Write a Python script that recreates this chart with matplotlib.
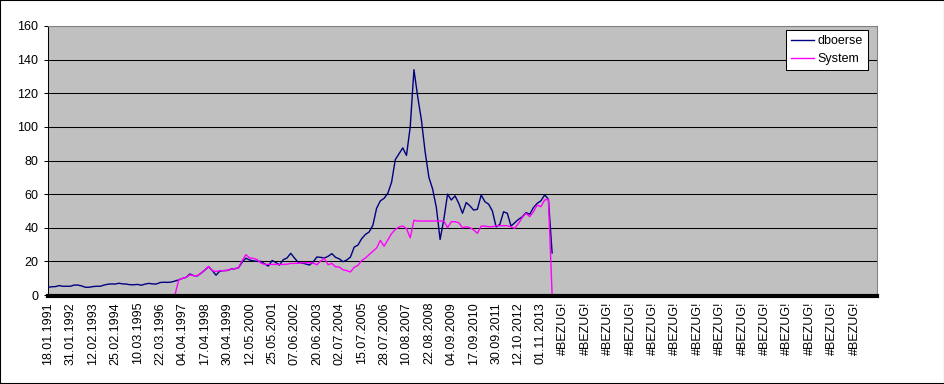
import numpy as np
import matplotlib
matplotlib.use("Agg")
import matplotlib.pyplot as plt
from matplotlib.patches import Rectangle

plt.rcParams["font.family"] = ["Liberation Sans", "DejaVu Sans"]

# Achsenbeschriftung (alle 270 Zeilen ein Label)
datums = ["18.01.1991", "31.01.1992", "12.02.1993", "25.02.1994", "10.03.1995",
          "22.03.1996", "04.04.1997", "17.04.1998", "30.04.1999", "12.05.2000",
          "25.05.2001", "07.06.2002", "20.06.2003", "02.07.2004", "15.07.2005",
          "28.07.2006", "10.08.2007", "22.08.2008", "04.09.2009", "17.09.2010",
          "30.09.2011", "12.10.2012", "01.11.2013"]
fehler_labels = ["#BEZUG!"] * 14
zeilen_pro_label = 270
zeilen_pro_wert = 45

# Kurse dboerse
dboerse = [
    4.5, 4.9, 5.0, 5.6, 5.2, 5.2, 5.2, 5.9, 5.9, 5.4,
    4.6, 4.6, 5.0, 5.2, 5.2, 5.9, 6.4, 6.6, 6.5, 7.0,
    6.6, 6.5, 6.1, 6.1, 6.3, 5.8, 6.5, 6.9, 6.6, 6.5,
    7.4, 7.6, 7.5, 7.7, 8.3, 9.0, 9.9, 10.5, 12.5, 11.5,
    11.4, 13.0, 14.8, 16.8, 14.5, 11.8, 14.2, 14.5, 14.6, 15.4,
    15.6, 16.2, 19.5, 21.9, 20.8, 20.3, 20.0, 20.0, 18.5, 17.2,
    20.5, 19.4, 17.8, 21.0, 22.0, 24.8, 22.0, 19.4, 19.0, 18.5,
    17.8, 19.6, 22.6, 22.4, 22.0, 23.0, 24.6, 22.4, 21.5, 19.8,
    20.8, 22.6, 28.5, 29.7, 33.5, 36.0, 37.5, 41.5, 51.6, 56.0,
    57.5, 60.5, 67.0, 80.5, 84.0, 87.5, 83.0, 100.0, 134.0, 118.0,
    104.0, 85.0, 70.0, 63.0, 52.0, 33.0, 45.0, 60.0, 56.5, 59.0,
    54.5, 48.6, 55.0, 53.0, 50.5, 51.0, 59.5, 55.5, 54.0, 50.0,
    40.5, 42.0, 49.5, 48.6, 41.0, 43.0, 45.0, 46.5, 49.0, 48.0,
    52.0, 54.5, 56.0, 59.5, 57.0, 25.0,
]

# System-Kurve (vor dem Start 0)
system = [
    0, 0, 0, 0, 0, 0, 0, 0, 0, 0,
    0, 0, 0, 0, 0, 0, 0, 0, 0, 0,
    0, 0, 0, 0, 0, 0, 0, 0, 0, 0,
    0, 0, 0, 0, 0, 9.0, 9.9, 10.5, 12.0, 11.5,
    11.5, 13.0, 15.0, 17.0, 14.5, 14.0, 14.5, 14.5, 14.6, 15.4,
    15.6, 16.2, 20.5, 24.0, 22.0, 21.8, 21.0, 19.0, 18.2, 18.2,
    18.2, 18.2, 18.2, 18.2, 18.3, 18.8, 18.8, 18.9, 19.2, 19.2,
    19.2, 19.0, 18.0, 20.2, 21.8, 18.0, 18.8, 16.8, 16.6, 15.0,
    14.5, 13.7, 16.5, 17.6, 20.5, 22.0, 24.0, 26.0, 28.0, 32.5,
    29.0, 32.7, 36.5, 39.0, 40.5, 41.0, 39.5, 34.0, 44.5, 44.0,
    44.0, 44.0, 44.0, 44.0, 44.0, 44.0, 44.0, 40.0, 43.6, 43.6,
    43.0, 40.0, 40.6, 40.0, 38.7, 36.7, 41.0, 41.0, 40.6, 40.6,
    41.2, 41.2, 41.2, 41.2, 40.5, 39.7, 42.6, 46.0, 48.6, 46.6,
    49.5, 53.5, 52.5, 56.5, 57.0, 0,
]

labels = datums + fehler_labels
x = np.arange(len(dboerse)) * zeilen_pro_wert

fig = plt.figure(figsize=(9.45, 3.84), dpi=100)
ax = fig.add_axes([48 / 945, 89 / 384, 829 / 945, 269 / 384])
ax.set_facecolor("#C0C0C0")

# Achsenlinien zuerst (set_position setzt die Ticks zurueck)
for s in ["top", "right"]:
    ax.spines[s].set_color("#808080")
    ax.spines[s].set_linewidth(0.75)
ax.spines["left"].set_color("black")
ax.spines["left"].set_linewidth(0.75)
ax.spines["bottom"].set_position(("outward", 1))
ax.spines["bottom"].set_color("black")
ax.spines["bottom"].set_linewidth(3)
ax.spines["bottom"].set_zorder(6)

ax.plot(x, dboerse, color="#000080", lw=1.0, label="dboerse", zorder=3)
ax.plot(x, system, color="#FF00FF", lw=1.0, label="System", zorder=4)

ax.set_ylim(0, 160)
ax.set_yticks(range(0, 161, 20))
ax.set_xlim(0, len(labels) * zeilen_pro_label)
ax.set_xticks(np.arange(len(labels)) * zeilen_pro_label)
ax.set_xticklabels(labels)

ax.grid(axis="y", color="black", lw=0.75)
ax.grid(axis="x", visible=False)
ax.set_axisbelow(True)

ax.tick_params(axis="y", length=3, width=0.75, pad=4, labelsize=9)
ax.tick_params(axis="x", length=0, pad=4, labelsize=9, labelrotation=90)

leg = ax.legend(loc="upper right", bbox_to_anchor=(0.989, 0.985), borderaxespad=0,
                fontsize=9, fancybox=False, framealpha=1, edgecolor="black",
                handlelength=1.85, handletextpad=0.3, labelspacing=0.5, borderpad=0.4)
leg.get_frame().set_linewidth(0.75)

# Rahmen um das ganze Diagramm
fig.patches.append(Rectangle((0, 0), 1, 1, transform=fig.transFigure, fill=False,
                             edgecolor="black", lw=1.5))

fig.savefig("out.png", dpi=100, facecolor="white")
